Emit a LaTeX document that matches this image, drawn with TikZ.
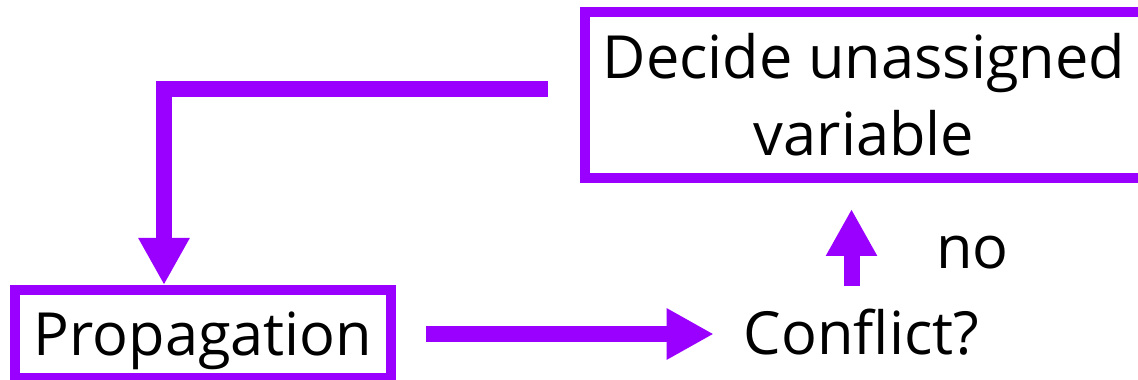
\documentclass[tikz,border=0pt]{standalone}
\usepackage{fontspec}
\setmainfont{Open Sans}
\usetikzlibrary{arrows.meta}
\definecolor{purp}{HTML}{9900FF}
\begin{document}
\begin{tikzpicture}[>={Triangle[width=48pt,length=47pt]}, x=1pt, y=1pt,
  box/.style={draw=purp, line width=10pt, align=center, font=\fontsize{59.5}{77}\selectfont},
  txt/.style={inner sep=0pt, font=\fontsize{59.5}{77}\selectfont},
  arr/.style={->, draw=purp, line width=16pt}]
\useasboundingbox (0,0) rectangle (1138,380);

%\draw[help lines] (0,0) grid[step=50] (1138,380);

\node[box, minimum width=558pt, minimum height=166pt] (dec) at (864,285) {Decide unassigned\\variable};
\node[box, minimum width=376pt, minimum height=88pt, text depth=0pt] (prop) at (203,46) {Propagation};
\node[txt, anchor=base] (conf) at (861.5,25) {Conflict?};
\node[txt, anchor=base] (no) at (972.5,111) {no};

\draw[arr] ([shift={(-32pt,6pt)}]dec.west) -| ([xshift=-39pt]prop.north);
\draw[arr, shorten <=30pt, shorten >=30pt] (prop.east) -- (prop.east -| conf.west);
\draw[arr, shorten <=23pt, shorten >=26pt] ([xshift=-10pt]conf.north) -- ([xshift=-10pt]conf.north |- dec.south);

\end{tikzpicture}
\end{document}
